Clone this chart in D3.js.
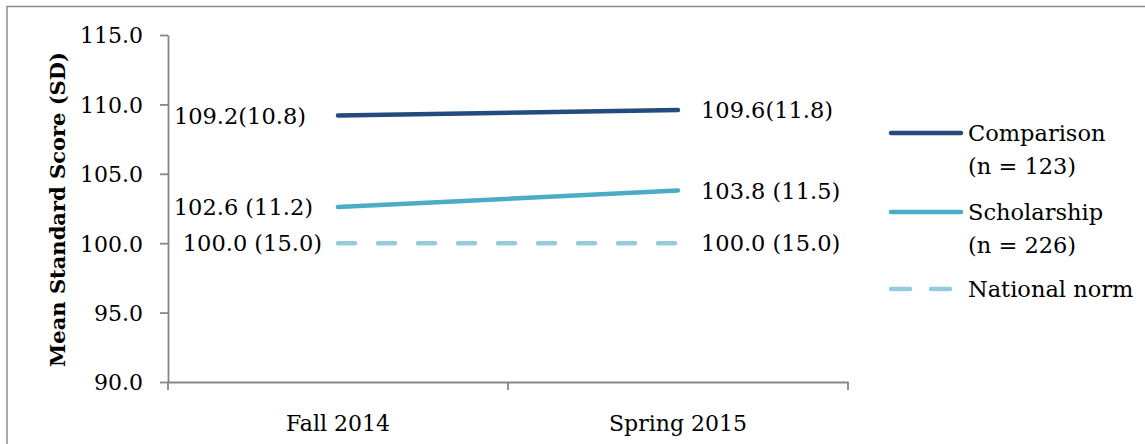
<!DOCTYPE html>
<html>
<head>
<meta charset="utf-8">
<script src="https://cdn.jsdelivr.net/npm/d3@7/dist/d3.min.js"></script>
<style>
  html, body { margin: 0; padding: 0; background: #fff; }
  svg { display: block; }
  text { font-family: "DejaVu Serif", "Liberation Serif", serif; fill: #000; }
</style>
</head>
<body>
<svg id="chart" width="1145" height="444"></svg>
<script>
// ---- data ----
const categories = ["Fall 2014", "Spring 2015"];
const seriesNames = ["Comparison", "Scholarship", "National norm"];
const legendLines = [["Comparison", "(n = 123)"], ["Scholarship", "(n = 226)"], ["National norm"]];
const comparisonValues = [109.2, 109.6];
const scholarshipValues = [102.6, 103.8];
const normValues = [100.0, 100.0];
const comparisonLabels = ["109.2(10.8)", "109.6(11.8)"];
const scholarshipLabels = ["102.6 (11.2)", "103.8 (11.5)"];
const normLabels = ["100.0 (15.0)", "100.0 (15.0)"];
const yTicks = [90, 95, 100, 105, 110, 115];
const yTitle = "Mean Standard Score (SD)";

// ---- styles ----
const styles = [
  { color: "#234b7d", dash: null, leftGap: 32 },
  { color: "#4bacc6", dash: null, leftGap: 25 },
  { color: "#93cddd", dash: "17,23", leftGap: 16 }
];

const series = [
  { name: seriesNames[0], values: comparisonValues, labels: comparisonLabels },
  { name: seriesNames[1], values: scholarshipValues, labels: scholarshipLabels },
  { name: seriesNames[2], values: normValues, labels: normLabels }
];

const svg = d3.select("#chart");

// outer border
svg.append("rect").attr("x", 7).attr("y", 6.5).attr("width", 1150).attr("height", 450)
  .attr("fill", "none").attr("stroke", "#8e8e8e").attr("stroke-width", 1.5);

const x = d3.scaleBand().domain(categories).range([168, 848]);
const y = d3.scaleLinear().domain([90, 115]).range([382, 35]);
const axisColor = "#878787";

// y axis
const yAxis = svg.append("g").attr("transform", "translate(168,0)")
  .call(d3.axisLeft(y).tickValues(yTicks).tickFormat(d3.format(".1f")).tickSize(8).tickSizeOuter(0).tickPadding(17));
yAxis.select(".domain").attr("stroke", axisColor).attr("stroke-width", 1.8);
yAxis.selectAll(".tick line").attr("stroke", axisColor).attr("stroke-width", 1.8);
yAxis.selectAll(".tick text").attr("font-size", 22).attr("font-family", "DejaVu Serif").attr("fill", "#000").attr("dy", "0.36em");

// x axis
const xAxis = svg.append("g").attr("transform", "translate(0,382)")
  .call(d3.axisBottom(x).tickSize(0).tickSizeOuter(0).tickPadding(33));
xAxis.select(".domain").attr("stroke", axisColor).attr("stroke-width", 1.8);
xAxis.selectAll(".tick text").attr("font-size", 22).attr("font-family", "DejaVu Serif").attr("fill", "#000");
// boundary ticks
const bounds = categories.map(c => x(c)).concat([x(categories[categories.length - 1]) + x.bandwidth()]);
xAxis.selectAll(".bt").data(bounds).enter().append("line")
  .attr("x1", d => d).attr("x2", d => d).attr("y1", 0).attr("y2", 8)
  .attr("stroke", axisColor).attr("stroke-width", 1.8);

// y title
svg.append("text")
  .attr("transform", `translate(65,${(52 + 367) / 2}) rotate(-90)`)
  .attr("text-anchor", "middle")
  .attr("font-size", 21).attr("font-weight", "bold")
  .text(yTitle);

const cx = c => x(c) + x.bandwidth() / 2;
const line = d3.line().x((d, i) => cx(categories[i])).y(d => y(d));

// lines (draw norm first so it is beneath)
series.slice().reverse().forEach((s) => {
  const st = styles[series.indexOf(s)];
  svg.append("path").datum(s.values)
    .attr("d", line).attr("fill", "none")
    .attr("stroke", st.color).attr("stroke-width", 4.5)
    .attr("stroke-linecap", "round")
    .attr("stroke-dasharray", st.dash);
});

// data labels
series.forEach((s, si) => {
  const st = styles[si];
  s.values.forEach((v, i) => {
    const isLeft = i === 0;
    svg.append("text")
      .attr("x", isLeft ? cx(categories[i]) - st.leftGap : cx(categories[i]) + 23)
      .attr("y", y(v)).attr("dy", "0.36em")
      .attr("text-anchor", isLeft ? "end" : "start")
      .attr("font-size", 22.5)
      .text(s.labels[i]);
  });
});

// legend
const legendY = [133, 212, 289];
series.forEach((s, si) => {
  const st = styles[si];
  const g = svg.append("g").attr("transform", `translate(0,${legendY[si]})`);
  g.append("line").attr("x1", 891).attr("x2", 961).attr("y1", 0).attr("y2", 0)
    .attr("stroke", st.color).attr("stroke-width", 4.5).attr("stroke-linecap", "round")
    .attr("stroke-dasharray", st.dash ? "19,21" : null);
  legendLines[si].forEach((t, li) => {
    g.append("text").attr("x", 968).attr("y", 8 + li * 33)
      .attr("font-size", 22.5).text(t);
  });
});
</script>
</body>
</html>
